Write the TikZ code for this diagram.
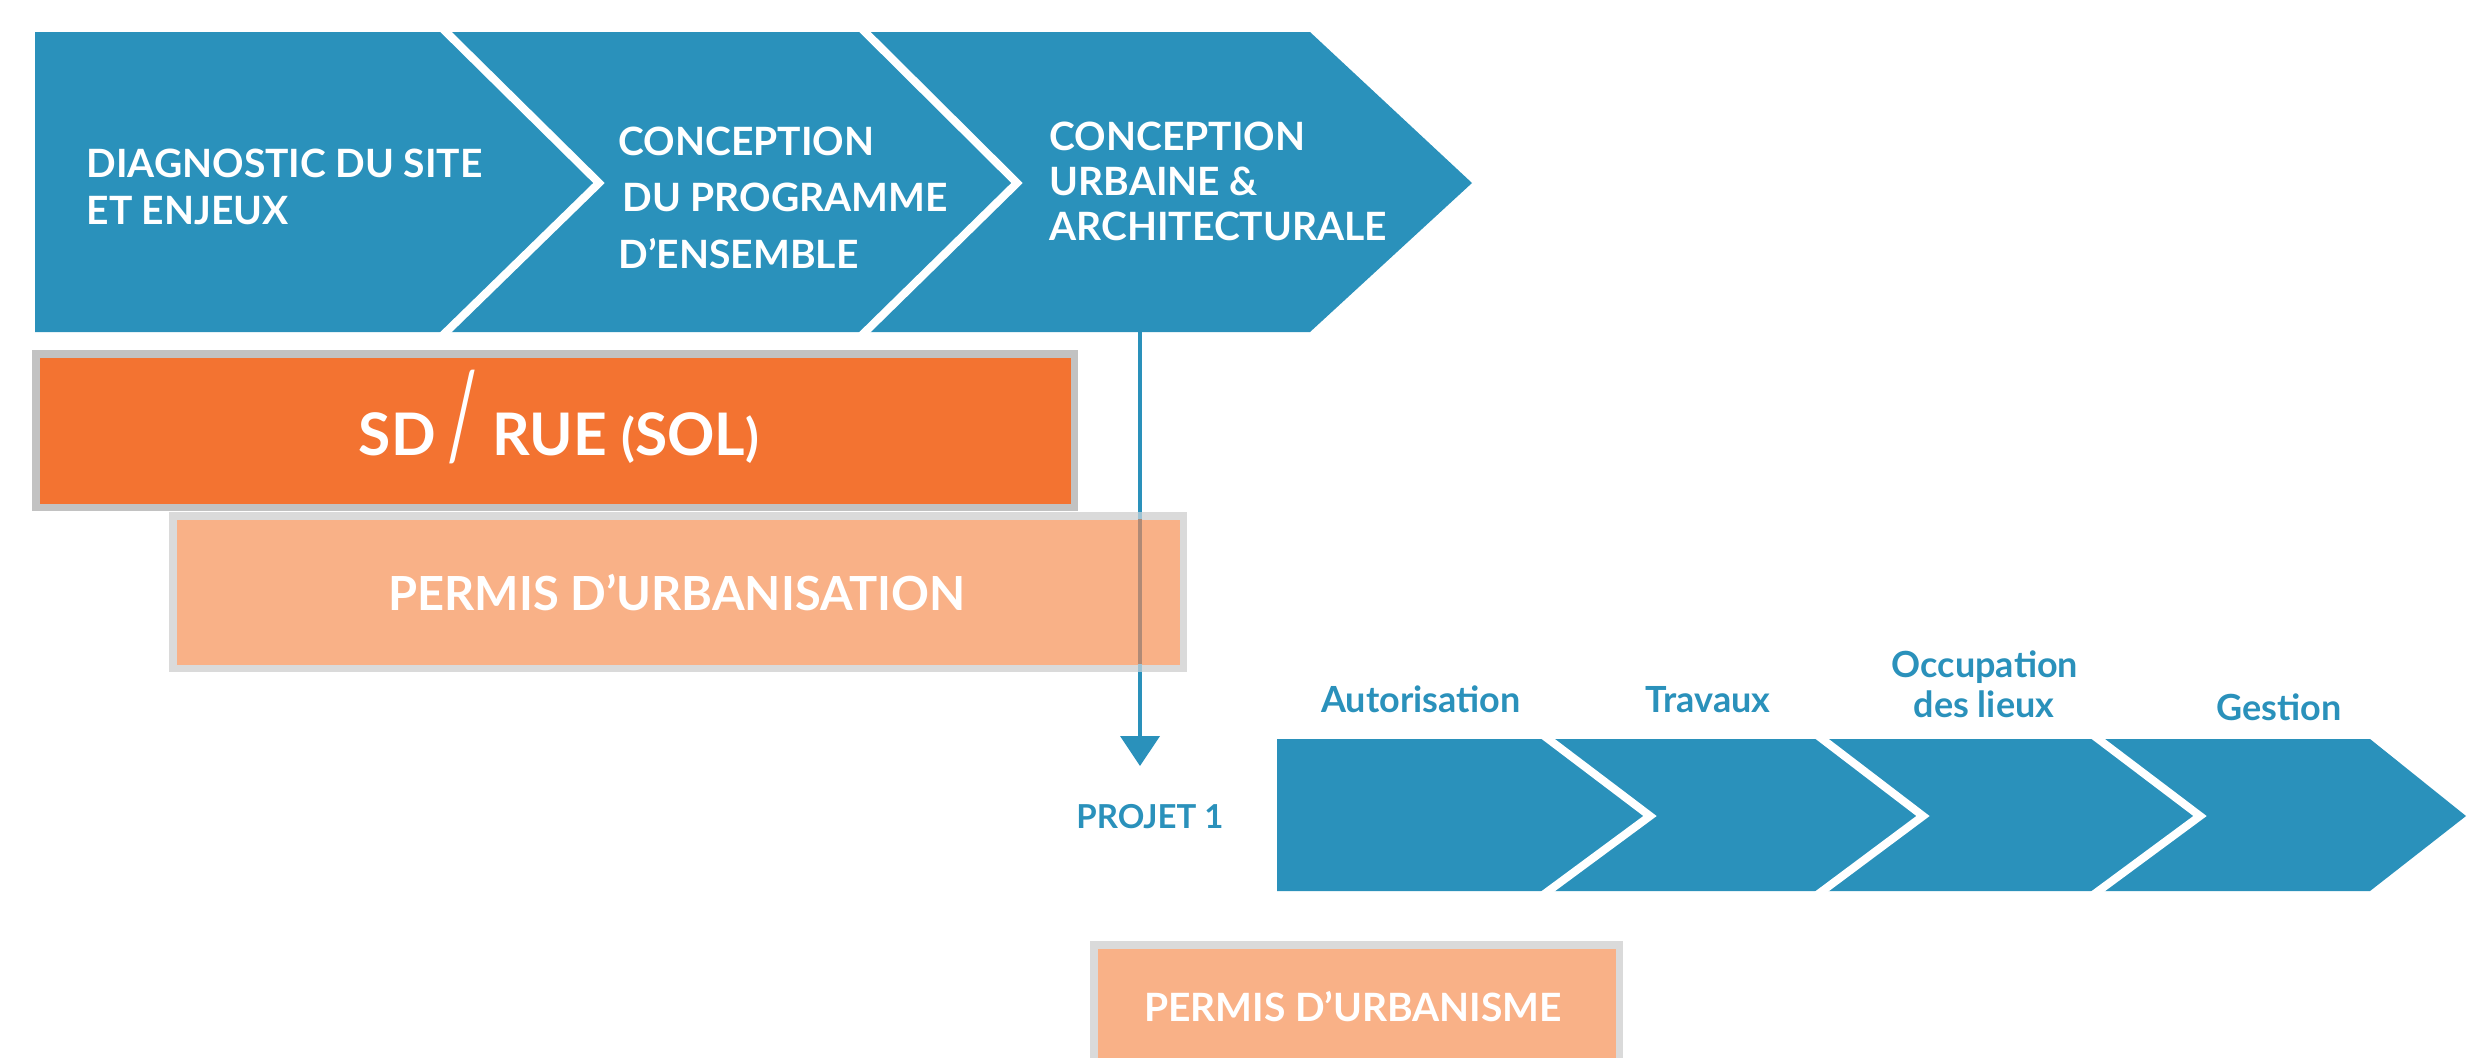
\documentclass[tikz,border=0pt]{standalone}
\usepackage{fontspec}
\setmainfont{Lato}
\usetikzlibrary{arrows.meta}
\definecolor{cblue}{HTML}{2A91BB}
\definecolor{corange}{HTML}{F37331}
\definecolor{clight}{HTML}{F9B187}
\definecolor{cgrayA}{HTML}{C2C2C2}
\definecolor{cgrayB}{HTML}{DADADA}
\definecolor{clineA}{HTML}{9DC3D4}
\definecolor{clineB}{HTML}{B08A76}
\begin{document}
\begin{tikzpicture}[x=0.3pt,y=-0.3pt,
  chev/.style={fill=cblue},
  sep/.style={draw=white,line width=2.4pt},
  toptxt/.style={anchor=base west,inner sep=0pt,text=white,font=\fontsize{11.7pt}{14pt}\selectfont\bfseries},
  lbl/.style={anchor=base,inner sep=0pt,text=cblue,font=\fontsize{10.8pt}{13pt}\selectfont\bfseries},
  boxA/.style={draw=cgrayA,fill=corange,line width=2.25pt,inner sep=0pt},
  boxB/.style={draw=cgrayB,fill=clight,line width=2.25pt,inner sep=0pt},
  boxtxt/.style={anchor=base,inner sep=0pt,text=white},
  connector/.style={draw=cblue,line width=1.2pt,-{Triangle[width=11.7pt,length=9pt]}}
]
\useasboundingbox (0,0) rectangle (2487,1057);
\clip (0,0) rectangle (2487,1057);

% top chevrons
\fill[chev] (35,32) -- (446,32) -- (599,183) -- (446,332) -- (35,332) -- cycle;
\fill[chev] (446,32) -- (865,32) -- (1017,183) -- (865,332) -- (446,332) -- (599,183) -- cycle;
\fill[chev] (865,32) -- (1310,32) -- (1472,183) -- (1310,332) -- (865,332) -- (1017,183) -- cycle;
\draw[sep] (442,28) -- (599,183) -- (442,336);
\draw[sep] (861,28) -- (1017,183) -- (861,336);

\node[toptxt] (t1a) at (86,177) {DIAGNOSTIC DU SITE};
\node[toptxt] (t1b) at (86,224) {ET ENJEUX};
\node[toptxt] (t2a) at (618,155) {CONCEPTION};
\node[toptxt] (t2b) at (622,211) {DU PROGRAMME};
\node[toptxt] (t2c) at (618,268) {D’ENSEMBLE};
\node[toptxt] (t3a) at (1049,150) {CONCEPTION};
\node[toptxt] (t3b) at (1049,195) {URBAINE \&};
\node[toptxt] (t3c) at (1049,240) {ARCHITECTURALE};

% connector
\coordinate (c3bot) at (1140,332);
\coordinate (arrowend) at (1140,766);
\draw[connector] (c3bot) -- (arrowend);

% SD / RUE box
\node[boxA,minimum width=311.55pt,minimum height=46.05pt] (sd) at (555,430.5) {};
\node[boxtxt,font=\fontsize{17.6pt}{20pt}\selectfont\bfseries] (sdt) at (559,455)
  {SD\hspace{3.5pt}{\fontseries{m}\selectfont\fontsize{36pt}{36pt}\selectfont\raisebox{-1pt}{\scalebox{0.55}[1]{/}}}\hspace{4.5pt}RUE {\fontsize{15.2pt}{15pt}\selectfont(}SOL{\fontsize{15.2pt}{15pt}\selectfont)}};

% Permis d'urbanisation box
\node[boxB,minimum width=303.15pt,minimum height=45.75pt] (pu) at (678,592) {};
\fill[clineA] (1138,512) rectangle (1142,672);
\fill[clineB] (1138,519) rectangle (1142,664);
\node[boxtxt,font=\fontsize{14.1pt}{16pt}\selectfont\bfseries] (put) at (677,610) {PERMIS D’URBANISATION};

% PROJET 1
\node[lbl,font=\fontsize{9.9pt}{12pt}\selectfont\bfseries] (projet) at (1150,828) {PROJET 1};

% bottom chevrons
\fill[chev] (1277,739) -- (1548,739) -- (1650,816) -- (1548,891) -- (1277,891) -- cycle;
\fill[chev] (1548,739) -- (1822,739) -- (1923,816) -- (1822,891) -- (1548,891) -- (1650,816) -- cycle;
\fill[chev] (1822,739) -- (2098,739) -- (2200,816) -- (2098,891) -- (1822,891) -- (1923,816) -- cycle;
\fill[chev] (2098,739) -- (2370,739) -- (2466,816) -- (2370,891) -- (2098,891) -- (2200,816) -- cycle;
\draw[sep] (1543,735) -- (1650,816) -- (1543,895);
\draw[sep] (1817,735) -- (1923,816) -- (1817,895);
\draw[sep] (2093,735) -- (2200,816) -- (2093,895);

\node[lbl] (l1) at (1421,712) {Autorisation};
\node[lbl] (l2) at (1708,712) {Travaux};
\node[lbl] (l3a) at (1985,677) {Occupation};
\node[lbl] (l3b) at (1984,717) {des lieux};
\node[lbl] (l4) at (2279,720) {Gestion};

% Permis d'urbanisme box
\node[boxB,minimum width=157.65pt,minimum height=50pt,anchor=north] (pm) at (1356.5,941.1) {};
\node[boxtxt,font=\fontsize{11.7pt}{14pt}\selectfont\bfseries] (pmt) at (1353,1021) {PERMIS D’URBANISME};
\end{tikzpicture}
\end{document}
